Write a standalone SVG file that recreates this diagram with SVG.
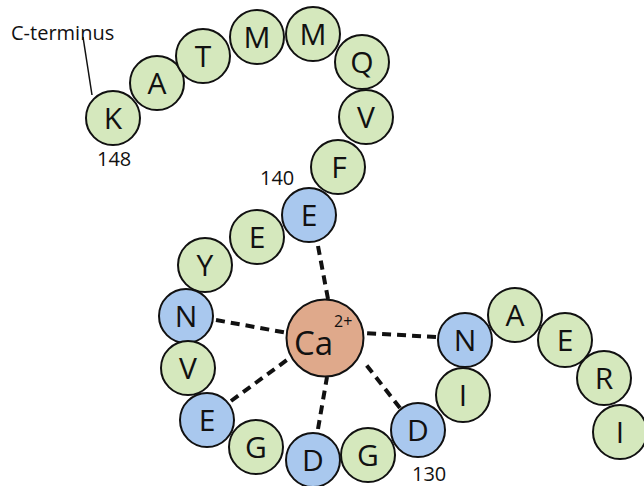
<svg xmlns="http://www.w3.org/2000/svg" width="644" height="486" viewBox="0 0 644 486">
  <style>
    .res circle { stroke: #111; stroke-width: 2; }
    .g circle { fill: #d5e8bd; }
    .b circle { fill: #a9c8ee; }
    .res text { font-family: "Open Sans", "Liberation Sans", sans-serif; font-size: 30px; fill: #111; text-anchor: middle; }
    .lbl { font-family: "Open Sans", "Liberation Sans", sans-serif; font-size: 20px; fill: #111; }
    .bond { stroke: #111; stroke-width: 4; stroke-dasharray: 9 6; fill: none; }
  </style>
  <rect width="644" height="486" fill="#ffffff"/>

  <!-- coordination bonds to the calcium ion -->
  <g id="connectors">
    <line class="bond" x1="318" y1="246" x2="328" y2="299"/>
    <line class="bond" x1="216" y1="320" x2="288" y2="333"/>
    <line class="bond" x1="436" y1="337" x2="364" y2="333"/>
    <line class="bond" x1="231" y1="401" x2="291" y2="357"/>
    <line class="bond" x1="318" y1="429" x2="327" y2="377"/>
    <line class="bond" x1="400" y1="408" x2="364" y2="362"/>
    <line x1="83" y1="37" x2="92" y2="95" stroke="#111" stroke-width="1.5"/>
  </g>

  <!-- residues, from C-terminus down the chain -->
  <g id="r-K" class="res g"><circle cx="113" cy="118" r="27"/><text x="113" y="129">K</text></g>
  <g id="r-A1" class="res g"><circle cx="157" cy="83" r="27"/><text x="157" y="94">A</text></g>
  <g id="r-T" class="res g"><circle cx="203" cy="56" r="27"/><text x="203" y="67">T</text></g>
  <g id="r-M1" class="res g"><circle cx="257" cy="37" r="27"/><text x="257" y="48">M</text></g>
  <g id="r-M2" class="res g"><circle cx="313" cy="34" r="27"/><text x="313" y="45">M</text></g>
  <g id="r-Q" class="res g"><circle cx="362" cy="62" r="27"/><text x="362" y="73">Q</text></g>
  <g id="r-V1" class="res g"><circle cx="366" cy="117" r="27"/><text x="366" y="128">V</text></g>
  <g id="r-F" class="res g"><circle cx="338" cy="167" r="27"/><text x="339" y="178">F</text></g>
  <g id="r-E140" class="res b"><circle cx="309" cy="215" r="27"/><text x="309" y="226">E</text></g>
  <g id="r-E2" class="res g"><circle cx="257" cy="237" r="27"/><text x="257" y="248">E</text></g>
  <g id="r-Y" class="res g"><circle cx="205" cy="265" r="27"/><text x="205" y="276">Y</text></g>
  <g id="r-N1" class="res b"><circle cx="186" cy="316" r="27"/><text x="186" y="327">N</text></g>
  <g id="r-V2" class="res g"><circle cx="188" cy="368" r="27"/><text x="188" y="379">V</text></g>
  <g id="r-E3" class="res b"><circle cx="207" cy="420" r="27"/><text x="207" y="431">E</text></g>
  <g id="r-G1" class="res g"><circle cx="256" cy="447" r="27"/><text x="256" y="458">G</text></g>
  <g id="r-D1" class="res b"><circle cx="313" cy="460" r="27"/><text x="313" y="471">D</text></g>
  <g id="r-G2" class="res g"><circle cx="368" cy="455" r="27"/><text x="368" y="466">G</text></g>
  <g id="r-D130" class="res b"><circle cx="418" cy="430" r="27"/><text x="418" y="441">D</text></g>
  <g id="r-I1" class="res g"><circle cx="463" cy="395" r="27"/><text x="463" y="406">I</text></g>
  <g id="r-N2" class="res b"><circle cx="465" cy="340" r="27"/><text x="465" y="351">N</text></g>
  <g id="r-A2" class="res g"><circle cx="515" cy="315" r="27"/><text x="515" y="326">A</text></g>
  <g id="r-E4" class="res g"><circle cx="565" cy="340" r="27"/><text x="565" y="351">E</text></g>
  <g id="r-R" class="res g"><circle cx="604" cy="378" r="27"/><text x="604" y="389">R</text></g>
  <g id="r-I2" class="res g"><circle cx="620" cy="432" r="27"/><text x="620" y="443">I</text></g>

  <!-- calcium ion -->
  <g id="ca">
    <circle cx="325" cy="338" r="38.5" fill="#dfa98b" stroke="#111" stroke-width="2"/>
    <text x="294" y="355" font-family="Open Sans, Liberation Sans, sans-serif" font-size="33" fill="#111">Ca</text>
    <text x="334" y="327" font-family="Open Sans, Liberation Sans, sans-serif" font-size="16" fill="#111">2+</text>
  </g>

  <!-- labels -->
  <text class="lbl" x="11" y="40">C-terminus</text>
  <text class="lbl" x="97" y="166">148</text>
  <text class="lbl" x="260" y="185">140</text>
  <text class="lbl" x="412" y="481">130</text>
</svg>
